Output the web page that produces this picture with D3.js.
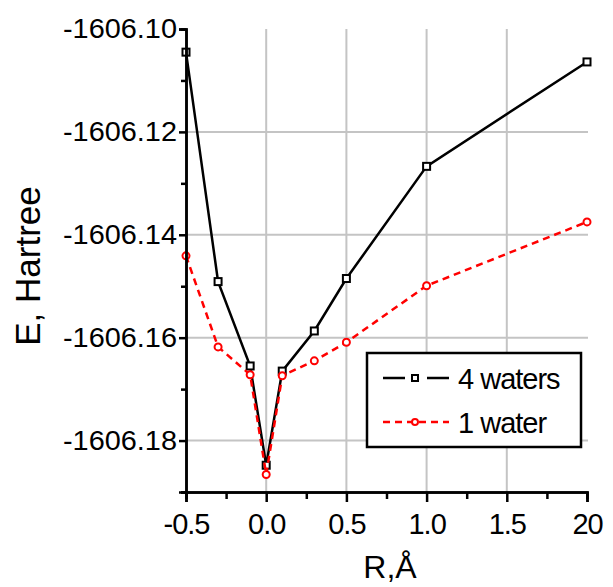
<!DOCTYPE html>
<html>
<head>
<meta charset="utf-8">
<script src="https://cdn.jsdelivr.net/npm/d3@7"></script>
<style>
  body { margin: 0; background: #fff; }
  svg { font-family: 'Liberation Sans', Arial, sans-serif; }
</style>
</head>
<body>
<svg id="chart"></svg>
<script>
// data
const rValues = [-0.5, -0.3, -0.1, 0.0, 0.1, 0.3, 0.5, 1.0, 2.0]
const fourWaters = [-1606.1045, -1606.1491, -1606.1655, -1606.1848, -1606.1665, -1606.1587, -1606.1485, -1606.1267, -1606.1064]
const oneWater = [-1606.1441, -1606.1618, -1606.1672, -1606.1866, -1606.1674, -1606.1645, -1606.1609, -1606.1499, -1606.1375]
const xTicks = [-0.5, 0.0, 0.5, 1.0, 1.5, 2.0]
const xTickLabels = ['-0.5', '0.0', '0.5', '1.0', '1.5', '20']
const xMinor = [-0.25, 0.25, 0.75, 1.25, 1.75]
const yTicks = [-1606.18, -1606.16, -1606.14, -1606.12, -1606.10]
const yTickLabels = ['-1606.18', '-1606.16', '-1606.14', '-1606.12', '-1606.10']
const yMinor = [-1606.19, -1606.17, -1606.15, -1606.13, -1606.11]
const seriesNames = ['4 waters', '1 water']

const w = 613
const h = 587
const plotLeft = 186, plotRight = 587, plotTop = 29, plotBottom = 492

const svg = d3.select('#chart')
    .attr('width', w)
    .attr('height', h)

const xScale = d3.scaleLinear().domain([-0.5, 2.0]).range([plotLeft, plotRight])
const yScale = d3.scaleLinear().domain([-1606.19, -1606.10]).range([plotBottom, plotTop])

// grid
svg.append('g')
    .selectAll('line')
    .data(xTicks.filter(d => d > -0.5 && d < 2.0))
    .enter()
    .append('line')
    .attr('x1', d => xScale(d)).attr('x2', d => xScale(d))
    .attr('y1', plotTop).attr('y2', plotBottom)
    .attr('stroke', '#c4c4c4').attr('stroke-width', 2)
svg.append('g')
    .selectAll('line')
    .data(yTicks.filter(d => d < -1606.1001))
    .enter()
    .append('line')
    .attr('x1', plotLeft).attr('x2', plotRight + 1)
    .attr('y1', d => yScale(d)).attr('y2', d => yScale(d))
    .attr('stroke', '#c4c4c4').attr('stroke-width', 2)

// series
const black = rValues.map((x, i) => [x, fourWaters[i]])
const red = rValues.map((x, i) => [x, oneWater[i]])
const line = d3.line().x(d => xScale(d[0])).y(d => yScale(d[1]))

svg.append('path')
    .datum(black)
    .attr('d', line)
    .attr('fill', 'none')
    .attr('stroke', '#000')
    .attr('stroke-width', 2.5)
svg.selectAll('.sq')
    .data(black)
    .enter()
    .append('rect')
    .attr('x', d => xScale(d[0]) - 3.5)
    .attr('y', d => yScale(d[1]) - 3.5)
    .attr('width', 7).attr('height', 7)
    .attr('fill', '#fff')
    .attr('stroke', '#000')
    .attr('stroke-width', 2)

svg.append('path')
    .datum(red)
    .attr('d', line)
    .attr('fill', 'none')
    .attr('stroke', '#ff0000')
    .attr('stroke-width', 2.5)
    .attr('stroke-dasharray', '7,5')
svg.selectAll('.ci')
    .data(red)
    .enter()
    .append('circle')
    .attr('cx', d => xScale(d[0]))
    .attr('cy', d => yScale(d[1]))
    .attr('r', 3.5)
    .attr('fill', '#fff')
    .attr('stroke', '#ff0000')
    .attr('stroke-width', 2)

// axes
const xAxis = d3.axisBottom(xScale).tickValues(xTicks).tickSize(10)
    .tickFormat((d, i) => xTickLabels[i])
const xAxisMinor = d3.axisBottom(xScale).tickValues(xMinor).tickSize(7).tickFormat('')
const yAxis = d3.axisLeft(yScale).tickValues(yTicks).tickSize(7)
    .tickFormat((d, i) => yTickLabels[i])
const yAxisMinor = d3.axisLeft(yScale).tickValues(yMinor).tickSize(5).tickFormat('')

const gx = svg.append('g').attr('transform', `translate(0, ${plotBottom})`).call(xAxis)
svg.append('g').attr('transform', `translate(0, ${plotBottom})`).call(xAxisMinor)
const gy = svg.append('g').attr('transform', `translate(${plotLeft}, 0)`).call(yAxis)
svg.append('g').attr('transform', `translate(${plotLeft}, 0)`).call(yAxisMinor)

svg.selectAll('.domain').attr('stroke', '#000').attr('stroke-width', 2.5)
svg.selectAll('.tick line').attr('stroke', '#000').attr('stroke-width', 2.5)
gx.selectAll('text')
    .attr('font-size', 29)
    .attr('font-family', 'Liberation Sans, Arial, sans-serif')
    .attr('fill', '#000')
    .attr('letter-spacing', -1)
    .attr('y', 21)
gy.selectAll('text')
    .attr('font-size', 28)
    .attr('font-family', 'Liberation Sans, Arial, sans-serif')
    .attr('fill', '#000')
    .attr('x', -9)
    .attr('textLength', 114)
    .attr('lengthAdjust', 'spacingAndGlyphs')

// axis titles
svg.append('text')
    .attr('x', 390)
    .attr('y', 578)
    .attr('text-anchor', 'middle')
    .attr('font-size', 32)
    .text('R,Å')
svg.append('text')
    .attr('transform', 'translate(40, 266) rotate(-90)')
    .attr('text-anchor', 'middle')
    .attr('font-size', 35)
    .text('E, Hartree')

// legend
const legend = svg.append('g')
legend.append('rect')
    .attr('x', 367).attr('y', 353)
    .attr('width', 214).attr('height', 94)
    .attr('fill', '#fff')
    .attr('stroke', '#000')
    .attr('stroke-width', 2.5)

const rows = [
    { name: seriesNames[0], color: '#000', y: 378 },
    { name: seriesNames[1], color: '#ff0000', y: 422 }
]
rows.forEach((r, i) => {
    legend.append('line')
        .attr('x1', 383).attr('x2', 449)
        .attr('y1', r.y).attr('y2', r.y)
        .attr('stroke', r.color)
        .attr('stroke-width', 2.5)
        .attr('stroke-dasharray', i === 0 ? '22,22' : '7,5')
    if (i === 0) {
        legend.append('rect')
            .attr('x', 412).attr('y', r.y - 3)
            .attr('width', 6).attr('height', 6)
            .attr('fill', '#fff').attr('stroke', '#000').attr('stroke-width', 2)
    } else {
        legend.append('circle')
            .attr('cx', 415).attr('cy', r.y).attr('r', 3)
            .attr('fill', '#fff').attr('stroke', '#ff0000').attr('stroke-width', 2)
    }
    legend.append('text')
        .attr('x', 458).attr('y', r.y + 11)
        .attr('font-size', 29)
        .attr('letter-spacing', -1)
        .text(r.name)
})
</script>
</body>
</html>
